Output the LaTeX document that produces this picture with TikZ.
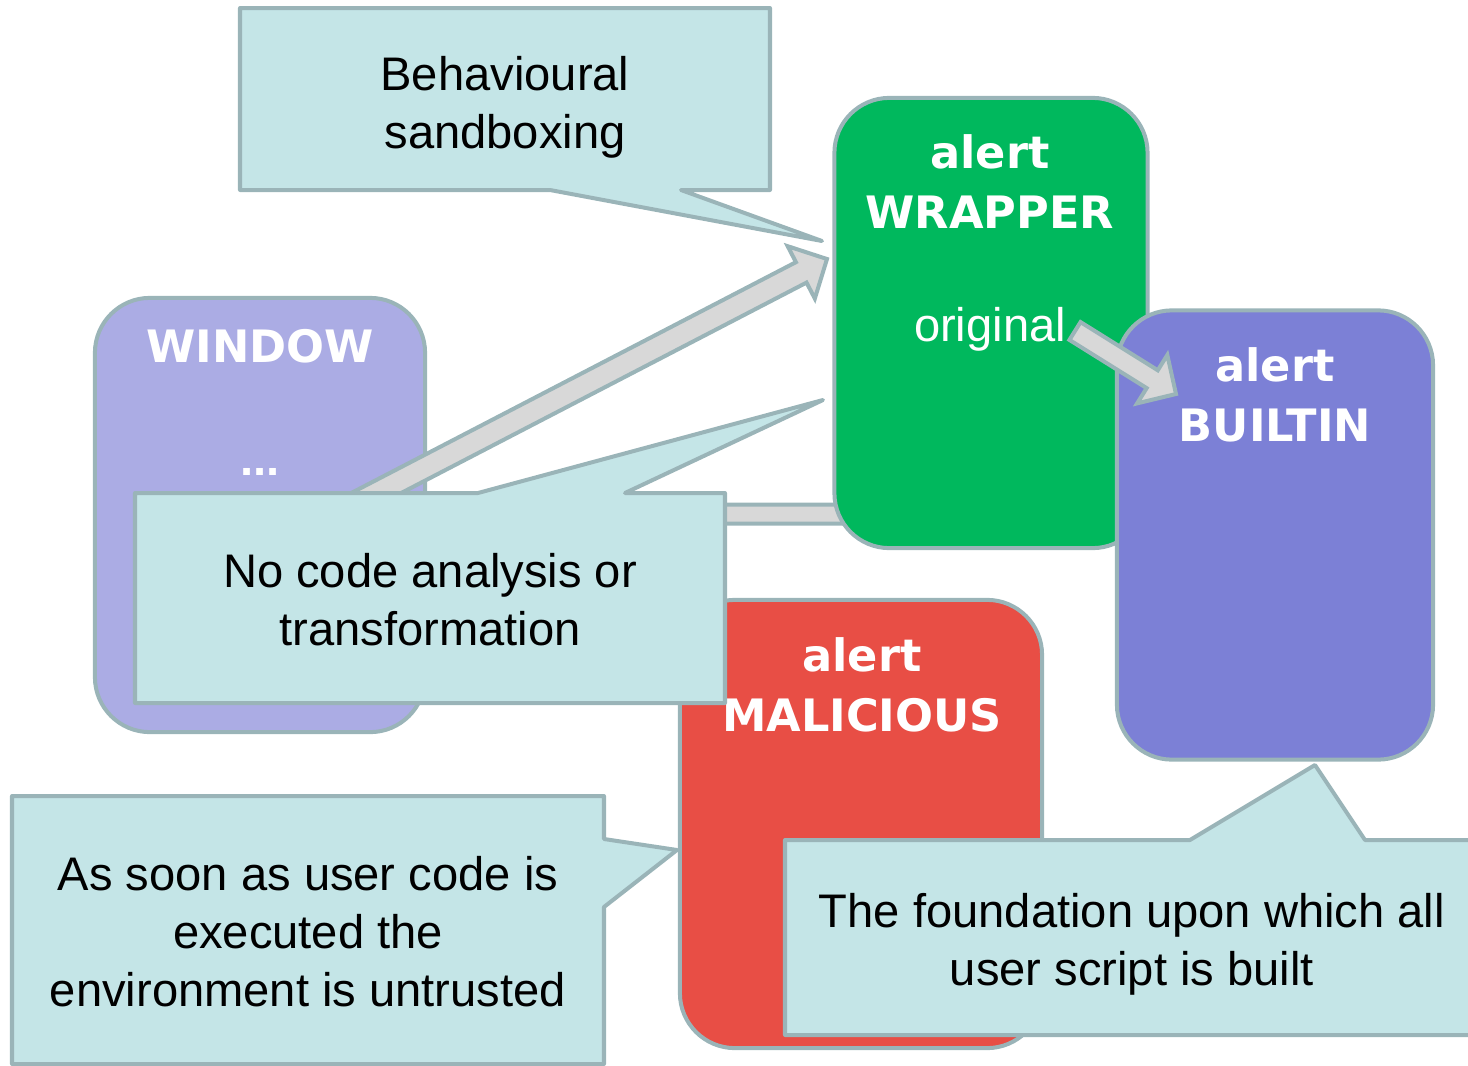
\documentclass[tikz,border=0pt]{standalone}
\usepackage{fontspec}
\setmainfont{Liberation Sans}
\newfontfamily\headfont{DejaVu Sans}
\usetikzlibrary{calc}

\definecolor{edgegray}{RGB}{154,180,184}
\definecolor{notefill}{RGB}{196,229,231}
\definecolor{winfill}{RGB}{171,172,228}
\definecolor{wrapfill}{RGB}{0,184,93}
\definecolor{builtfill}{RGB}{124,128,214}
\definecolor{malfill}{RGB}{232,78,69}
\definecolor{arrowfill}{RGB}{216,216,216}

% tail, tip, half shaft, half head, head length
\newcommand\blockarrow[5]{%
	\coordinate (ba-base) at ($(#2)!#5!(#1)$);
	\draw[blockarr] ($(#1)!#3!90:(#2)$) -- ($(ba-base)!#3!90:(#2)$) -- ($(ba-base)!#4!90:(#2)$)
		-- (#2) -- ($(ba-base)!#4!-90:(#2)$) -- ($(ba-base)!#3!-90:(#2)$) -- ($(#1)!#3!-90:(#2)$) -- cycle;
}

\begin{document}
\begin{tikzpicture}[
		x=0.01cm,y=-0.01cm,
		box/.style={
			draw=edgegray,
			line width=0.04cm,
			rounded corners=0.55cm,
			inner sep=0
		},
		head/.style={text=white,anchor=base,inner sep=0,
			font=\headfont\bfseries\fontsize{12.7}{16.5}\selectfont
		},
		plaintext/.style={text=white,anchor=base,inner sep=0,
			font=\fontsize{13.4}{16.5}\selectfont
		},
		callout/.style={
			fill=notefill,
			draw=edgegray,
			line width=0.04cm,
			line join=round
		},
		note/.style={
			align=center,
			inner sep=0,
			font=\fontsize{13.4}{16.5}\selectfont
		},
		blockarr/.style={
			fill=arrowfill,
			draw=edgegray,
			line width=0.04cm
		}
		]
		\useasboundingbox (0,0) rectangle (1468,1066);
		\clip (0,0) rectangle (1468,1066);
		% Window
		\node[box,fill=winfill,minimum width=3.3cm,minimum height=4.34cm] (window) at (260,515) {};
		\node[head] (window-name) at (260,362) {WINDOW};
		\node[plaintext,font=\bfseries\fontsize{13.4}{16.5}\selectfont] (window-dots) at (260,475) {...};
		% Window -> Wrapper
		\coordinate (win-out) at (500,514);
		\coordinate (wrap-in) at (930,514);
		\coordinate (win-diag) at (330,517);
		\coordinate (wrap-diag) at (827,259);
		\blockarrow{win-out}{wrap-in}{0.095cm}{0.29cm}{0.29cm}
		\blockarrow{win-diag}{wrap-diag}{0.115cm}{0.295cm}{0.29cm}
		% Wrapper
		\node[box,fill=wrapfill,minimum width=3.13cm,minimum height=4.5cm] (wrapper) at (991,323) {};
		\node[head] (wrapper-alert) at (990,168) {alert};
		\node[head] (wrapper-name) at (990,228) {WRAPPER};
		\node[plaintext] (wrapper-orig) at (990,341) {original};
		% Builtin
		\node[box,fill=builtfill,minimum width=3.16cm,minimum height=4.49cm] (builtin) at (1275,535) {};
		\node[head] (builtin-alert) at (1275,381) {alert};
		\node[head] (builtin-name) at (1275,441) {BUILTIN};
		% Original -> Builtin
		\coordinate (orig-out) at (1075,331);
		\coordinate (built-in) at (1176,394);
		\blockarrow{orig-out}{built-in}{0.105cm}{0.285cm}{0.28cm}
		% Malicious
		\node[box,fill=malfill,minimum width=3.62cm,minimum height=4.48cm] (malicious) at (861,824) {};
		\node[head] (malicious-alert) at (862,671) {alert};
		\node[head] (malicious-name) at (862,731) {MALICIOUS};
		% Callouts
		\draw[callout] (240,8) -- (770,8) -- (770,190) -- (681,190) -- (822,241) -- (550,190) -- (240,190) -- cycle;
		\node[note] (sandbox-note) at (505,107) {Behavioural\\sandboxing};
		\draw[callout] (135,493) -- (478,493) -- (823,400) -- (625,493) -- (725,493) -- (725,703) -- (135,703) -- cycle;
		\node[note] (analysis-note) at (430,600) {No code analysis or\\transformation};
		\draw[callout] (12,796) -- (604,796) -- (604,839) -- (677,850) -- (604,907) -- (604,1064) -- (12,1064) -- cycle;
		\node[note] (untrusted-note) at (308,932) {As soon as user code is\\executed the\\environment is untrusted};
		\draw[callout] (785,840) -- (1190,840) -- (1315,765) -- (1365,840) -- (1490,840) -- (1490,1035) -- (785,1035) -- cycle;
		\node[note] (foundation-note) at (1132,944) {The foundation upon which all\\user script is built};
\end{tikzpicture}
\end{document}
